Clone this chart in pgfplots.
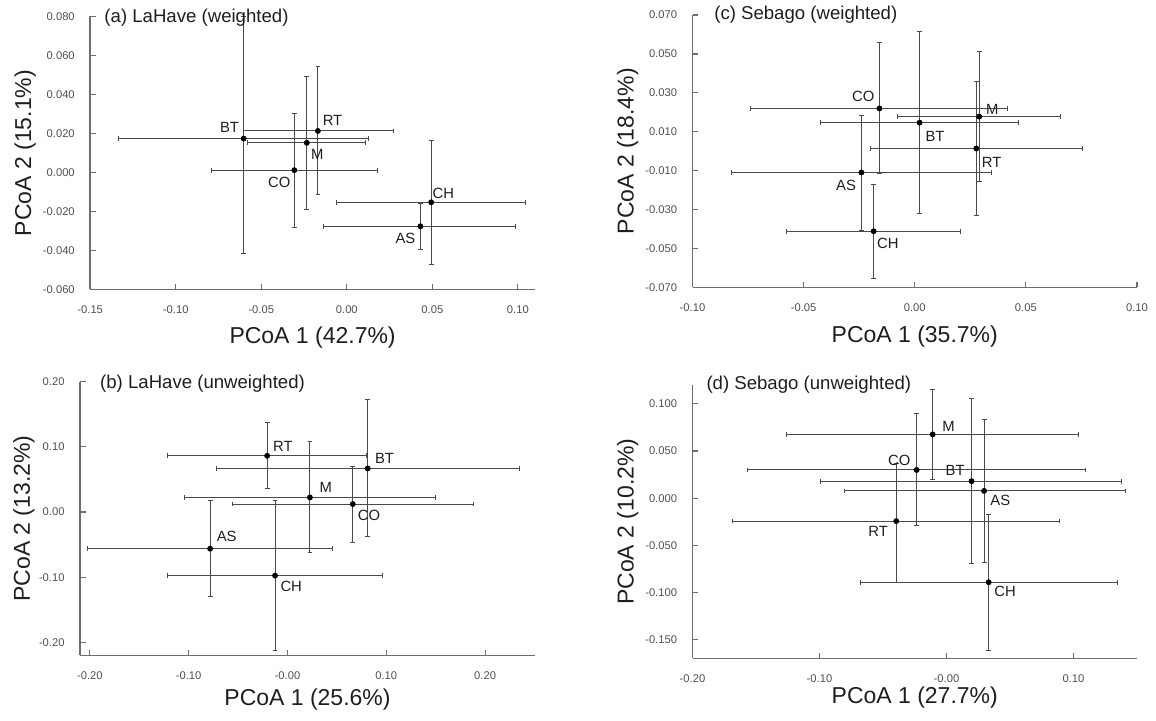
\documentclass[border=0pt]{standalone}
\usepackage{fontspec}
\setmainfont{Liberation Sans}
\usepackage{pgfplots}
\usepackage{pgfplotstable}
\pgfplotsset{compat=1.18}

\definecolor{axiscol}{HTML}{6E6E6E}
\definecolor{tickcol}{HTML}{505050}
\definecolor{errcol}{HTML}{4A4A4A}
\definecolor{labcol}{HTML}{1E1E1E}

% lab x y xlo xhi ylo yhi dx dy  (dx,dy = label offset in pt)
\pgfplotstableread{
lab x y xlo xhi ylo yhi dx dy
BT -0.0603 0.0174 -0.1336 0.0129 -0.0417 0.0800 -7.1 5.5
RT -0.0169 0.0213 -0.0605 0.0271 -0.0114 0.0545 7.3 5.3
M -0.0234 0.0152 -0.0580 0.0110 -0.0192 0.0494 5.2 -6.0
CO -0.0307 0.0012 -0.0789 0.0180 -0.0281 0.0305 -7.5 -6.2
CH 0.0493 -0.0153 -0.0063 0.1044 -0.0474 0.0165 6.1 4.5
AS 0.0430 -0.0276 -0.0136 0.0985 -0.0397 -0.0157 -7.5 -5.8
}\tabA

\pgfplotstableread{
lab x y xlo xhi ylo yhi dx dy
CO -0.0159 0.0220 -0.0738 0.0419 -0.0116 0.0558 -8.1 5.8
M 0.0290 0.0178 -0.0079 0.0658 -0.0155 0.0510 6.5 3.7
BT 0.0022 0.0147 -0.0423 0.0466 -0.0318 0.0613 7.7 -6.7
RT 0.0277 0.0014 -0.0201 0.0755 -0.0331 0.0360 7.7 -6.8
AS -0.0240 -0.0109 -0.0826 0.0347 -0.0406 0.0186 -7.7 -6.7
CH -0.0185 -0.0411 -0.0576 0.0205 -0.0654 -0.0169 7.1 -6.3
}\tabC

\pgfplotstableread{
lab x y xlo xhi ylo yhi dx dy
RT -0.0206 0.0863 -0.1210 0.0801 0.0368 0.1370 7.9 4.8
BT 0.0812 0.0669 -0.0722 0.2347 -0.0378 0.1726 8.4 5.0
M 0.0227 0.0225 -0.1047 0.1498 -0.0623 0.1078 7.9 4.8
CO 0.0661 0.0123 -0.0552 0.1884 -0.0460 0.0705 8.1 -5.7
AS -0.0783 -0.0562 -0.2022 0.0451 -0.1297 0.0184 8.3 6.3
CH -0.0126 -0.0975 -0.1210 0.0964 -0.2125 0.0184 8.1 -5.5
}\tabB

\pgfplotstableread{
lab x y xlo xhi ylo yhi dx dy
M -0.0109 0.0676 -0.1256 0.1042 0.0201 0.1155 7.9 3.8
CO -0.0235 0.0299 -0.1570 0.1092 -0.0292 0.0898 -8.7 4.7
BT 0.0197 0.0180 -0.0989 0.1374 -0.0694 0.1060 -8.2 5.2
AS 0.0296 0.0077 -0.0807 0.1409 -0.0680 0.0835 8.1 -4.8
RT -0.0396 -0.0243 -0.1688 0.0886 -0.0898 0.0370 -9.0 -5.2
CH 0.0332 -0.0891 -0.0681 0.1344 -0.1610 -0.0169 8.2 -4.8
}\tabD

\pgfplotsset{
  pcoa/.style={
    scale only axis, scaled ticks=false,
    axis x line*=bottom, axis y line*=left,
    axis line style={axiscol, line width=0.75pt, -},
    tick align=inside, major tick length=2.8pt,
    tick style={axiscol, line width=0.6pt},
    ticklabel style={font=\fontsize{5.6}{6}\selectfont, text=tickcol},
    yticklabel style={xshift=-4.2pt},
    xticklabel style={yshift=-4.5pt},
    label style={font=\fontsize{11.5}{13}\selectfont, text=labcol},
    title style={at={(rel axis cs:0,1)}, anchor=west, inner sep=0pt,
      font=\fontsize{9.3}{11}\selectfont, text=labcol},
    clip=false,
  },
  pts/.style={only marks, mark=*, mark size=1.25pt, black,
    nodes near coords, point meta=explicit symbolic,
    visualization depends on={\thisrow{dx}\as\dx},
    visualization depends on={\thisrow{dy}\as\dy},
    every node near coord/.append style={anchor=center, xshift=\dx pt, yshift=\dy pt,
      font=\fontsize{7.4}{8}\selectfont, text=labcol, inner sep=0pt},
    error bars/.cd, x dir=both, x explicit, y dir=both, y explicit,
    error bar style={errcol, line width=0.5pt},
    error mark options={rotate=90, errcol, mark size=1.2pt, line width=0.5pt}},
  table/ptstab/.style={x=x, y=y, meta=lab,
    x error plus expr=\thisrow{xhi}-\thisrow{x},
    x error minus expr=\thisrow{x}-\thisrow{xlo},
    y error plus expr=\thisrow{yhi}-\thisrow{y},
    y error minus expr=\thisrow{y}-\thisrow{ylo}},
}

\begin{document}
\begin{tikzpicture}
\useasboundingbox (0,0) rectangle (578pt,360.5pt);

% (a)
\begin{axis}[pcoa, at={(45.1pt,215.75pt)}, anchor=south west,
  width=222.4pt, height=136.5pt,
  xmin=-0.15, xmax=0.11, ymin=-0.06, ymax=0.08,
  xtick={-0.15,-0.10,-0.05,0,0.05,0.10},
  xticklabels={-0.15,-0.10,-0.05,0.00,0.05,0.10},
  ytick={-0.06,-0.04,-0.02,0,0.02,0.04,0.06,0.08},
  yticklabels={-0.060,-0.040,-0.020,0.000,0.020,0.040,0.060,0.080},
  xlabel={PCoA 1 (42.7\%)}, ylabel={PCoA 2 (15.1\%)},
  xlabel style={at={(axis description cs:0.5,-0.175)}, anchor=center},
  ylabel style={at={(axis description cs:-0.146,0.5)}, anchor=center},
  title={(a) LaHave (weighted)}, title style={xshift=6.95pt, yshift=-6.8pt}]
\addplot[pts] table[ptstab] {\tabA};
\end{axis}

% (c)
\begin{axis}[pcoa, at={(346.25pt,216.75pt)}, anchor=south west,
  width=222.25pt, height=136.25pt,
  xmin=-0.10, xmax=0.10, ymin=-0.07, ymax=0.07,
  xtick={-0.10,-0.05,0,0.05,0.10},
  xticklabels={-0.10,-0.05,0.00,0.05,0.10},
  ytick={-0.07,-0.05,-0.03,-0.01,0.01,0.03,0.05,0.07},
  yticklabels={-0.070,-0.050,-0.030,-0.010,0.010,0.030,0.050,0.070},
  xlabel={PCoA 1 (35.7\%)}, ylabel={PCoA 2 (18.4\%)},
  xlabel style={at={(axis description cs:0.5,-0.179)}, anchor=center},
  ylabel style={at={(axis description cs:-0.146,0.5)}, anchor=center},
  title={(c) Sebago (weighted)}, title style={xshift=10.7pt, yshift=-6pt}]
\addplot[pts] table[ptstab] {\tabC};
\end{axis}

% (b)
\begin{axis}[pcoa, at={(40pt,32.75pt)}, anchor=south west,
  width=227.5pt, height=136.9pt,
  xmin=-0.21, xmax=0.2505, ymin=-0.22, ymax=0.20,
  xtick={-0.20,-0.10,0,0.10,0.20},
  xticklabels={-0.20,-0.10,-0.00,0.10,0.20},
  ytick={-0.20,-0.10,0,0.10,0.20},
  yticklabels={-0.20,-0.10,0.00,0.10,0.20},
  xlabel={PCoA 1 (25.6\%)}, ylabel={PCoA 2 (13.2\%)},
  xlabel style={at={(axis description cs:0.5,-0.16)}, anchor=center},
  ylabel style={at={(axis description cs:-0.123,0.5)}, anchor=center},
  title={(b) LaHave (unweighted)}, title style={xshift=9.9pt, yshift=-6.8pt}]
\addplot[pts] table[ptstab] {\tabB};
\end{axis}

% (d)
\begin{axis}[pcoa, at={(346.25pt,31.25pt)}, anchor=south west,
  width=222.25pt, height=136.75pt,
  xmin=-0.20, xmax=0.15, ymin=-0.17, ymax=0.12,
  xtick={-0.20,-0.10,0,0.10},
  xticklabels={-0.20,-0.10,-0.00,0.10},
  ytick={-0.15,-0.10,-0.05,0,0.05,0.10},
  yticklabels={-0.150,-0.100,-0.050,0.000,0.050,0.100},
  xlabel={PCoA 1 (27.7\%)}, ylabel={PCoA 2 (10.2\%)},
  xlabel style={at={(axis description cs:0.5,-0.142)}, anchor=center},
  ylabel style={at={(axis description cs:-0.146,0.5)}, anchor=center},
  title={(d) Sebago (unweighted)}, title style={xshift=6.8pt, yshift=-6pt}]
\addplot[pts] table[ptstab] {\tabD};
\end{axis}
\end{tikzpicture}
\end{document}
